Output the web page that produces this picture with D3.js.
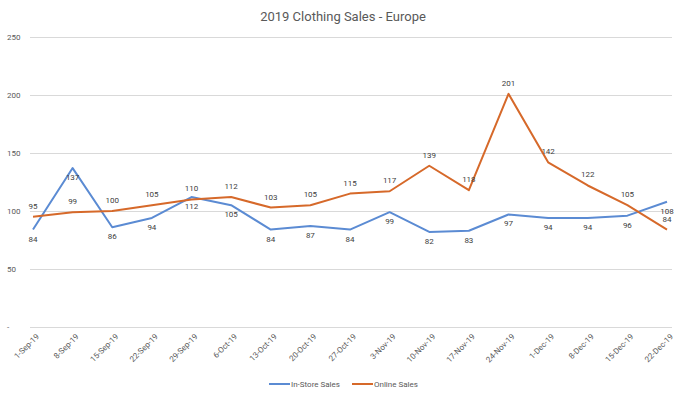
<!DOCTYPE html>
<html>
<head>
<meta charset="utf-8">
<script src="https://cdn.jsdelivr.net/npm/d3@7"></script>
<style>
  body { margin: 0; background: #fff; }
  text { font-family: Roboto, "Liberation Sans", sans-serif; }
</style>
</head>
<body>
<div id="chart"></div>
<script>
const weeks = ['1-Sep-19', '8-Sep-19', '15-Sep-19', '22-Sep-19', '29-Sep-19', '6-Oct-19', '13-Oct-19',
    '20-Oct-19', '27-Oct-19', '3-Nov-19', '10-Nov-19', '17-Nov-19', '24-Nov-19', '1-Dec-19',
    '8-Dec-19', '15-Dec-19', '22-Dec-19']
const inStore = [84, 137, 86, 94, 112, 105, 84, 87, 84, 99, 82, 83, 97, 94, 94, 96, 108]
const online = [95, 99, 100, 105, 110, 112, 103, 105, 115, 117, 139, 118, 201, 142, 122, 105, 84]
const yTicks = [0, 50, 100, 150, 200, 250]

const Width = 687
const Height = 395
const gray = '#595959'

const series = [
    { name: 'In-Store Sales', values: inStore, color: '#5b8bd3', dy: 12 },
    { name: 'Online Sales', values: online, color: '#d6692a', dy: -8 }
]

const svg = d3.select('#chart')
    .append('svg')
    .attr('width', Width)
    .attr('height', Height)

svg.append('rect').attr('width', Width).attr('height', Height).attr('fill', '#fff')

const x = d3.scalePoint()
    .domain(weeks)
    .range([33, 667])

const y = d3.scaleLinear()
    .domain([0, 250])
    .range([327, 37])

// title
svg.append('text')
    .attr('x', 343)
    .attr('y', 21)
    .attr('text-anchor', 'middle')
    .attr('font-size', 13)
    .attr('fill', gray)
    .text('2019 Clothing Sales - Europe')

// gridlines + y labels
const yAxis = svg.append('g')
    .attr('transform', 'translate(30,0)')
    .call(d3.axisLeft(y).tickValues(yTicks).tickSize(-642)
        .tickFormat(d => d === 0 ? '-' : d))
yAxis.select('.domain').remove()
yAxis.selectAll('.tick line').attr('stroke', '#d9d9d9')
yAxis.selectAll('.tick text')
    .attr('x', -23)
    .attr('text-anchor', 'start')
    .attr('font-size', 8)
    .attr('fill', gray)
    .attr('font-family', 'Roboto, sans-serif')

// x axis
const xAxis = svg.append('g')
    .attr('transform', `translate(0,${y(0)})`)
    .call(d3.axisBottom(x).tickSize(0))
xAxis.select('.domain').remove()
xAxis.selectAll('.tick text')
    .attr('font-size', 8)
    .attr('fill', gray)
    .attr('font-family', 'Roboto, sans-serif')
    .attr('text-anchor', 'end')
    .attr('dy', 0)
    .attr('transform', 'translate(4,8) rotate(-45)')

const line = d3.line()
    .x((d, i) => x(weeks[i]))
    .y(d => y(d))

series.forEach(s => {
    svg.append('path')
        .datum(s.values)
        .attr('fill', 'none')
        .attr('stroke', s.color)
        .attr('stroke-width', 2)
        .attr('stroke-linejoin', 'round')
        .attr('d', line)
})

series.forEach(s => {
    svg.append('g').selectAll('text')
        .data(s.values)
        .enter().append('text')
        .attr('x', (d, i) => x(weeks[i]))
        .attr('y', d => y(d) + s.dy)
        .attr('text-anchor', 'middle')
        .attr('font-size', 8)
        .attr('fill', '#404040')
        .text(d => d)
})

// legend
const legend = svg.append('g').attr('transform', 'translate(269,384)')
const legendX = [0, 83]
series.forEach((s, i) => {
    const g = legend.append('g').attr('transform', `translate(${legendX[i]},0)`)
    g.append('line')
        .attr('x1', 0).attr('x2', 21)
        .attr('stroke', s.color)
        .attr('stroke-width', 2)
    g.append('text')
        .attr('x', 22)
        .attr('y', 3)
        .attr('font-size', 8)
        .attr('fill', gray)
        .text(s.name)
})
</script>
</body>
</html>
